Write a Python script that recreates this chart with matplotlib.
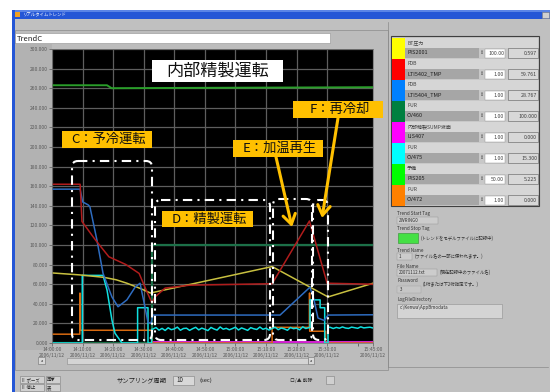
import matplotlib
matplotlib.use('Agg')
import matplotlib.pyplot as plt
from matplotlib.patches import Rectangle, FancyBboxPatch
import numpy as np

plt.rcParams['font.family'] = ['Noto Sans CJK JP', 'DejaVu Sans']

W, H = 550, 392

# トレンドデータ (横軸: 表示開始からの経過分)
t_green = [0, 18, 19.5, 105]
v_green = [263, 263, 260, 261]

t_dkgreen = [0, 32.7, 32.7, 105]
v_dkgreen = [0, 0, 100, 100]

t_magenta = [32.7, 105]
v_magenta = [0.6, 0.6]

t_yellow = [0, 9, 17, 21, 24.5, 29, 32.2, 72, 90.3, 105]
v_yellow = [71.5, 69.5, 67, 64.5, 61, 55.5, 51, 78, 47, 61]

t_red = [0, 9.2, 9.8, 14, 18.6, 24.2, 28.5, 30.8, 32.7, 33.7, 37, 45, 72, 84.2, 90, 105]
v_red = [162, 162, 124, 106, 88, 80, 71, 54, 41, 47, 56, 59, 60.5, 124.5, 61, 60]

t_blue = [0, 9.2, 10, 11.8, 12.4, 14.7, 16.7, 19.6, 21.6, 24.5, 27.2, 28.8,
          30.4, 31.4, 32.4, 33, 74.6, 84.4, 85.7, 87, 89, 90.3, 105]
v_blue = [157, 157, 144, 141, 139, 105, 71, 47, 37, 44, 57, 61,
          37, 21, 20, 28.5, 28.5, 57, 44, 25.5, 23, 28.5, 28.8]

t_orange = [0, 9.1, 9.15, 9.2, 32.7, 32.7, 72, 72, 84.2, 84.25, 84.3, 89.5, 89.5, 105]
v_orange = [9, 9, 51, 13, 13, 0, 0, 16, 16, 51, 12, 12, 0, 0]

# CV475 開度 (1分周期サンプル)
t_cyan_a = [0, 9.9, 9.9, 16.7, 18, 19.6, 20.6, 22.2, 22.9, 28, 28, 31.4, 31.4, 32.6, 32.6]
v_cyan_a = [0, 0, 69, 69, 54, 23.5, 10, 3, 0, 0, 36, 36, 0, 0, 14]
v_cyan_b = [14.2, 15.8, 13.1, 14.9, 12.8, 15.5, 13.6, 14.4, 16.2, 13.0,
            14.8, 15.1, 12.9, 14.6, 16.0, 13.4, 15.2, 14.0, 12.7, 15.9,
            14.3, 13.2, 16.4, 14.1, 15.0, 13.5, 14.7, 16.1, 13.3, 15.4,
            14.2, 12.9, 15.7, 14.5, 13.8, 16.3, 14.0, 15.1, 13.2, 14.9,
            16.0, 13.6, 15.3, 14.4, 13.0, 15.8, 14.6, 15.2, 13.4, 16.5,
            14.8, 15.6]
t_cyan_c = [84.4, 84.4, 87.7, 87.7, 89.2, 89.2, 90.3, 90.3]
v_cyan_c = [15.6, 44, 44, 36, 36, 0, 0, 16]
v_cyan_d = [16.0, 14.8, 15.9, 15.1, 16.4, 15.3, 14.9, 16.2, 15.6, 15.0,
            16.5, 15.4, 15.8, 16.1, 15.3]

t_cyan = (t_cyan_a + [33 + i for i in range(len(v_cyan_b))] + t_cyan_c
          + [91 + i for i in range(len(v_cyan_d))])
v_cyan = v_cyan_a + v_cyan_b + v_cyan_c + v_cyan_d

y_ticks = list(range(0, 301, 20))
x_ticks = [0, 10, 20, 30, 40, 50, 60, 70, 80, 90, 105]
x_times = ['14:00:00', '14:10:00', '14:20:00', '14:30:00', '14:40:00', '14:50:00',
           '15:00:00', '15:10:00', '15:20:00', '15:30:00', '15:45:00']
x_date = '2006/11/12'

# 凡例パネル
leg_names = ['BT圧力', 'FDB', 'FDB', 'PUR', '内部精製SUMP液面', 'PUR', '予備', 'PUR']
leg_tags = ['PIS2001', 'LTI5402_TMP', 'LTI5404_TMP', 'CV460', 'LIS407', 'CV475', 'PIS205', 'CV472']
leg_scales = ['100.00', '1.00', '1.00', '1.00', '1.00', '1.00', '50.00', '1.00']
leg_values = ['0.597', '59.761', '28.767', '100.000', '0.000', '15.300', '5.225', '0.000']
leg_colors = ['#ffff00', '#ff0000', '#0080ff', '#008040', '#ff00ff', '#00ffff', '#00ff00', '#ff8000']

fig = plt.figure(figsize=(5.5, 3.92), dpi=100)
fig.patch.set_facecolor('white')

bg = fig.add_axes([0, 0, 1, 1], zorder=-1)
bg.set_xlim(0, W)
bg.set_ylim(H, 0)
bg.axis('off')

ov = fig.add_axes([0, 0, 1, 1], zorder=3)
ov.set_xlim(0, W)
ov.set_ylim(H, 0)
ov.axis('off')
ov.patch.set_alpha(0)


def rect(a, x0, y0, x1, y1, fc, ec='none', lw=0.6, z=1):
    a.add_patch(Rectangle((x0, y0), x1 - x0, y1 - y0, fc=fc, ec=ec, lw=lw, zorder=z))


def txt(a, x, y, s, size=4, color='#303030', ha='left', va='center', z=5, **kw):
    a.text(x, y, s, fontsize=size, color=color, ha=ha, va=va, zorder=z, **kw)


# ウィンドウ
rect(bg, 12, 10, W, H, '#c0c0c0')
rect(bg, 12, 10, W, 19, '#2456d6')
rect(bg, 12, 10, W, 12, '#5a84e6')
rect(bg, 12, 10, 14.5, H, '#2456d6')
rect(bg, 15, 12, 19.5, 17, '#f0a020')
txt(bg, 22, 14.5, 'リアルタイムトレンド', size=3.2, color='white')
rect(bg, 542, 11.5, 549, 18, '#d0d0d0', ec='#808080', lw=0.4)

# グラフ枠
rect(bg, 15, 30, 388, 370, '#bcbcbc', ec='#8c8c8c', lw=0.5)
rect(bg, 15, 44, 52, 350, '#b2b2b2')
rect(bg, 15, 33, 330, 43, 'white', ec='#909090', lw=0.4)
txt(bg, 17, 38.5, 'TrendC', size=5.5, color='#202020')

# スクロールバー
rect(bg, 38, 357, 45, 364, '#d8d8d8', ec='#707070', lw=0.4)
txt(bg, 41.5, 360.5, 'a', size=3, ha='center')
rect(bg, 67, 358, 308, 364, '#d4d4d4', ec='#8a8a8a', lw=0.4)
rect(bg, 308, 357, 314, 364, '#d8d8d8', ec='#707070', lw=0.4)
txt(bg, 311, 360.5, 'a', size=3, ha='center')

# 下部操作部
rect(bg, 20, 376, 44, 383, '#d0d0d0', ec='#808080', lw=0.4)
rect(bg, 20, 384, 44, 391, '#d0d0d0', ec='#808080', lw=0.4)
rect(bg, 46, 376, 60, 383, '#d0d0d0', ec='#808080', lw=0.4)
rect(bg, 46, 384, 60, 391, '#d0d0d0', ec='#808080', lw=0.4)
txt(bg, 21, 379.5, 'Ⅱ ポーズ', size=3.2)
txt(bg, 21, 387.5, 'Ⅱ 停止', size=3.2)
txt(bg, 47, 379.5, '再▼', size=3.2)
txt(bg, 47, 387.5, '表', size=3.2)
txt(bg, 117, 380, 'サンプリング周期', size=4.5, color='#202020')
rect(bg, 173, 376, 194, 385, '#d8d8d8', ec='#808080', lw=0.4)
txt(bg, 176, 380.5, '10', size=4.5, color='#202020')
txt(bg, 200, 380.5, '(sec)', size=4.2, color='#202020')
txt(bg, 290, 380, 'ロ/▲ 削除', size=3.5)
rect(bg, 326, 376, 334, 384, '#d0d0d0', ec='#808080', lw=0.4)

# 右パネル
bg.plot([388, 388], [22, 367], color='#8a8a8a', lw=0.5)
bg.plot([388, 548], [367, 367], color='#8a8a8a', lw=0.5)
rect(bg, 391, 36, 539, 206, '#c8c8c8', ec='#404040', lw=0.8)
for i in range(len(leg_names)):
    y0 = 37.5 + i * 21
    rect(bg, 392, y0, 405, y0 + 21, leg_colors[i])
    rect(bg, 405, y0, 538, y0 + 10, '#d6d6d6')
    txt(bg, 407, y0 + 5, leg_names[i], size=3.6, color='#404040')
    rect(bg, 405, y0 + 10.5, 479, y0 + 20, '#a6a6a6')
    txt(bg, 407, y0 + 15.3, leg_tags[i], size=4, color='#202020')
    txt(bg, 482, y0 + 15.3, '⇕', size=3.5, ha='center', color='#404040')
    rect(bg, 485, y0 + 11, 505, y0 + 20, 'white', ec='#909090', lw=0.3)
    txt(bg, 504, y0 + 15.5, leg_scales[i], size=3.8, ha='right', color='#404040')
    rect(bg, 508, y0 + 10.5, 538, y0 + 20, '#d8d8d8', ec='#606060', lw=0.4)
    txt(bg, 537, y0 + 15.5, leg_values[i], size=3.8, ha='right', color='#404040')

txt(bg, 397, 213, 'Trend Start Tag', size=3.3)
rect(bg, 397, 217, 438, 224, '#cccccc', ec='#909090', lw=0.3)
txt(bg, 399, 220.5, 'ZWRING0', size=3.2)
txt(bg, 397, 228.5, 'Trend Stop Tag', size=3.3)
rect(bg, 398, 233, 418, 243, '#44e044', ec='#309030', lw=0.4)
txt(bg, 421, 238, '(トレンドをモデルファイルに記録中)', size=3.2)
txt(bg, 397, 250, 'Trend Name', size=3.3)
rect(bg, 397, 253, 412, 260, '#cccccc', ec='#909090', lw=0.3)
txt(bg, 399, 256.5, '1', size=3.2)
txt(bg, 415, 256.5, '(ファイル名の一部に使われます。)', size=3.2)
txt(bg, 397, 266, 'File Name', size=3.3)
rect(bg, 397, 269, 437, 276, '#cccccc', ec='#909090', lw=0.3)
txt(bg, 399, 272.5, '20071112.txt', size=3.2)
txt(bg, 440, 272.5, '(現在記録中のファイル名)', size=3.2)
txt(bg, 397, 281, 'Password', size=3.3)
txt(bg, 423, 284, '(1桁または下2桁指定です。)', size=3.2)
rect(bg, 397, 286, 421, 293, '#c6c6c6', ec='#a0a0a0', lw=0.3)
txt(bg, 400, 289.5, '3', size=3.2)
txt(bg, 397, 299.5, 'LogFileDirectory', size=3.2)
rect(bg, 397, 304, 502, 318, '#d4d4d4', ec='#909090', lw=0.4)
txt(bg, 400, 307.5, 'c:\\Kenwa\\AppBmodata', size=3.2)

# トレンドグラフ本体
ax = fig.add_axes([52 / W, (H - 343) / H, 321 / W, 294 / H], zorder=1)
ax.set_facecolor('black')
ax.set_xlim(0, 105)
ax.set_ylim(0, 300)
ax.set_yticks(y_ticks, ['%.3f' % v for v in y_ticks])
ax.set_xticks(x_ticks, [s + '\n' + x_date for s in x_times])
ax.set_xticks([100], minor=True)
ax.grid(True, color='#5e5e5e', lw=0.9)
ax.set_axisbelow(True)
ax.tick_params(axis='both', labelsize=3.6, colors='#5a5a5a', length=2, width=0.5, pad=1)
ax.tick_params(axis='x', which='minor', length=2, color='#5a5a5a')
for s in ax.spines.values():
    s.set_color('#707070')
    s.set_linewidth(0.5)

kw = dict(lw=1.1, solid_joinstyle='round')
ax.plot(t_magenta, v_magenta, color='#d020d0', lw=2.2)
ax.plot(t_dkgreen, v_dkgreen, color='#1c7048', lw=1.6)
ax.plot(t_orange, v_orange, color='#d86a10', **kw)
ax.plot(t_cyan, v_cyan, color='#10e0e0', **kw)
ax.plot(t_green, v_green, color='#2a9e2a', lw=1.4)
ax.plot(t_yellow, v_yellow, color='#c8c040', **kw)
ax.plot(t_blue, v_blue, color='#2e6cc0', **kw)
ax.plot(t_red, v_red, color='#b01c1c', **kw)

# 工程区分の枠と注記
ls = (0, (4.5, 2.5, 1, 2.5))
for x0, y0, x1, y1 in [(72, 161, 152, 340), (155, 200, 270, 340),
                       (273, 199, 312, 340), (313, 200, 328, 340)]:
    ov.add_patch(FancyBboxPatch((x0, y0), x1 - x0, y1 - y0,
                                boxstyle='round,pad=0,rounding_size=6',
                                fc='none', ec='white', lw=1.5, ls=ls, zorder=4))

rect(ov, 152, 60, 283, 82, 'white', z=5)
txt(ov, 217.5, 71, '内部精製運転', size=12.3, color='#101010', ha='center', z=6)

orange = '#ffc000'
for x0, y0, x1, y1, s in [(62, 131, 152, 148, 'C：予冷運転'),
                          (162, 211, 253, 227, 'D：精製運転'),
                          (233, 140, 323, 157, 'E：加温再生'),
                          (293, 101, 383, 118, 'F：再冷却')]:
    rect(ov, x0, y0, x1, y1, orange, z=5)
    txt(ov, (x0 + x1) / 2 + 2, (y0 + y1) / 2, s, size=9.5, color='#101010', ha='center', z=6)

arrow = dict(arrowstyle='->,head_length=0.7,head_width=0.45', color=orange,
             lw=2.2, mutation_scale=10, shrinkA=0, shrinkB=0)
ov.annotate('', xy=(292, 227), xytext=(276, 157), arrowprops=arrow, zorder=6)
ov.annotate('', xy=(322, 218), xytext=(338, 118), arrowprops=arrow, zorder=6)

fig.savefig('out.png', dpi=100, facecolor='white')
